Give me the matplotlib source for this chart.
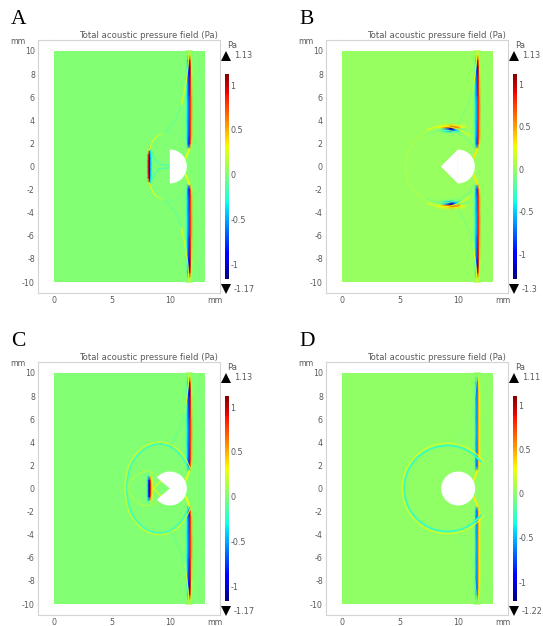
import numpy as np
import matplotlib
matplotlib.use("Agg")
import matplotlib.pyplot as plt
from matplotlib.colors import Normalize
from matplotlib.patches import Arc, Polygon, Circle, Wedge, PathPatch
from matplotlib.path import Path

W, H = 543, 626
TXT = "#5a5a5a"
FRAME = "#d4d4d4"
X_TICKS = [0, 5, 10]
Y_TICKS = [-10, -8, -6, -4, -2, 0, 2, 4, 6, 8, 10]
CB_TICKS = [-1, -0.5, 0, 0.5, 1]
CB_LABELS = ["-1", "-0.5", "0", "0.5", "1"]
TITLE = "Total acoustic pressure field (Pa)"
LETTERS = ["A", "B", "C", "D"]
VMAX = [1.13, 1.13, 1.13, 1.11]
VMIN = [-1.17, -1.3, -1.17, -1.22]

# Right-hand wall band (upper half; mirrored below). Columns: x in mm, rows: y in mm
wall_x = [11.36, 11.48, 11.58, 11.68, 11.78, 11.88, 11.97]
wall_y = [10.0, 9.6, 9.2, 8.6, 8.0, 6.0, 4.0, 2.4, 1.9, 1.5]
wall_a = [[0, 0, 0.04, 0.12, 0.05, 0, 0],
          [0, 0, -0.1, -0.4, 0.2, 0, 0],
          [0, -0.05, -0.6, -0.9, 0.7, 0.05, 0],
          [0, -0.15, -0.75, -1.0, 0.95, 0.15, 0],
          [0, -0.2, -0.7, -0.9, 0.95, 0.3, 0],
          [0, -0.25, -0.55, -0.7, 0.85, 0.55, 0],
          [0, -0.25, -0.5, -0.65, 0.8, 0.55, 0],
          [0, -0.25, -0.6, -0.8, 0.85, 0.45, 0],
          [0, -0.1, -0.65, -0.9, 0.7, 0.1, 0],
          [0, 0, -0.1, -0.2, 0.1, 0, 0]]
wall_d = [[0, 0, 0.03, 0.08, 0.03, 0, 0],
          [0, 0, -0.1, -0.35, 0.15, 0, 0],
          [0, -0.05, -0.5, -0.7, 0.35, 0.05, 0],
          [0, -0.1, -0.55, -0.7, 0.45, 0.1, 0],
          [0, -0.1, -0.55, -0.65, 0.5, 0.25, 0],
          [0, -0.1, -0.5, -0.6, 0.5, 0.3, 0],
          [0, -0.1, -0.5, -0.6, 0.5, 0.3, 0],
          [0, -0.1, -0.55, -0.65, 0.5, 0.3, 0],
          [0, -0.1, -0.6, -0.75, 0.45, 0.1, 0],
          [0, 0, -0.1, -0.2, 0.1, 0, 0]]

# Small vertical band left of the scatterer
left_x_a = [8.02, 8.14, 8.24, 8.36, 8.48, 8.62]
left_y_a = [1.7, 1.35, 1.0, 0.5, 0.0]
left_a = [[0, 0, 0, 0, 0, 0],
          [0, 0.3, -0.6, -0.2, 0, 0],
          [0, 0.8, -1.1, -0.35, -0.05, 0],
          [0, 0.9, -1.1, -0.4, -0.05, 0],
          [0, 0.9, -1.1, -0.4, -0.05, 0]]
left_x_c = [7.95, 8.07, 8.2, 8.32, 8.45, 8.6]
left_y_c = [1.35, 1.05, 0.7, 0.3, 0.0]
left_c = [[0, 0, 0, 0, 0, 0],
          [0, -0.15, -0.2, 0.2, 0.05, 0],
          [0, -0.3, -0.9, 0.85, 0.3, 0],
          [0, -0.3, -1.0, 0.95, 0.35, 0],
          [0, -0.3, -1.0, 0.95, 0.35, 0]]

# Dipole on the circular front in panel B
dip_x = [7.9, 8.5, 9.0, 9.4, 9.8, 10.3, 10.9]
dip_y = [2.85, 3.0, 3.13, 3.27, 3.4, 3.55, 3.72]
dip_b = [[0, 0, 0, 0, 0, 0, 0],
         [0, -0.03, -0.2, -0.3, -0.2, -0.03, 0],
         [0, -0.15, -0.5, -0.95, -0.5, -0.1, 0],
         [0, -0.1, -0.6, -1.2, -0.6, -0.1, 0],
         [0, 0.25, 0.7, 1.05, 0.7, 0.25, 0],
         [0, 0.15, 0.3, 0.4, 0.3, 0.15, 0],
         [0, 0, 0, 0, 0, 0, 0]]

# Thin fronts (upper half, mirrored below)
wing_low_x = [8.23, 8.45, 8.85, 9.45]
wing_low_y = [1.43, 2.10, 2.60, 2.90]
wing_mid_x = [9.45, 10.2, 10.7, 11.0]
wing_mid_y = [2.90, 3.50, 4.40, 5.30]
wing_top_x = [11.0, 11.3, 11.5, 11.62, 11.66]
wing_top_y = [5.30, 6.60, 8.00, 9.20, 10.0]
wing2_x = [10.0, 10.8, 11.25, 11.5, 11.62]
wing2_y = [3.6, 5.0, 6.6, 8.0, 9.6]
neck_x = [11.67, 11.55, 11.38]
neck_y = [1.55, 1.1, 0.72]
a_in1_x = [8.44, 8.85, 9.2, 10.03]
a_in1_y = [1.14, 0.35, 0.1, 0.13]
a_in2_x = [8.44, 9.2, 10.5, 11.1, 11.47]
a_in2_y = [1.86, 3.0, 3.0, 2.4, 1.58]
c_out_x = [6.27, 6.35, 7.3, 8.5, 9.7, 10.7, 11.4, 11.65]
c_out_y = [0.0, 1.6, 3.1, 3.85, 3.85, 3.2, 2.2, 1.6]
c_out2_x = [6.1, 6.18, 7.18, 8.45, 9.75, 10.85, 11.55, 11.78]
c_out2_y = [0.0, 1.7, 3.25, 4.02, 4.02, 3.35, 2.3, 1.7]
c_in_x = [6.35, 6.6, 7.5, 8.4, 8.9]
c_in_y = [0.0, 0.7, 1.5, 1.5, 1.12]
c_chev_x = [8.58, 9.3]
c_chev_y = [0.0, 0.74]

cmap = plt.get_cmap("jet")
fig = plt.figure(figsize=(W / 100, H / 100), dpi=100, facecolor="white")
over = fig.add_axes([0, 0, 1, 1], zorder=5)
over.set_xlim(0, W)
over.set_ylim(H, 0)
over.axis("off")


def rect(l, t, w, h):
    return [l / W, 1 - (t + h) / H, w / W, h / H]


def band(ax, xs, ys, vals, norm):
    v = np.array(vals, float)
    y = np.array(ys, float)
    for sign in (1, -1):
        ax.pcolormesh(xs, sign * y, v, shading="gouraud", cmap=cmap, norm=norm, zorder=2, rasterized=True)


def front(ax, xs, ys, val, norm, lw=1.0, alpha=0.9):
    """Smooth quadratic curve steered by the control points, plus its mirror image."""
    pts = np.column_stack([xs, ys]).astype(float)
    for sign in (1, -1):
        p = pts * [1, sign]
        if len(p) < 3:
            path = Path(p)
        else:
            verts = [p[0]]
            codes = [Path.MOVETO]
            for k in range(1, len(p) - 1):
                end = p[k + 1] if k == len(p) - 2 else (p[k] + p[k + 1]) / 2
                verts += [p[k], end]
                codes += [Path.CURVE3, Path.CURVE3]
            path = Path(verts, codes)
        ax.add_patch(PathPatch(path, fc="none", ec=cmap(norm(val)), lw=lw, alpha=alpha,
                               capstyle="round", zorder=3))


def arc(ax, cx, r, t0, t1, val, norm, lw=1.0, alpha=0.9):
    for a0, a1 in ((t0, t1), (-t1, -t0)):
        ax.add_patch(Arc((cx, 0), 2 * r, 2 * r, theta1=a0, theta2=a1, color=cmap(norm(val)),
                         lw=lw, alpha=alpha, zorder=3))


def panel(i, left, top):
    vmin, vmax = VMIN[i], VMAX[i]
    norm = Normalize(vmin, vmax)
    ax = fig.add_axes(rect(left, top, 182, 253))
    ax.set_xlim(-1.41, 14.34)
    ax.set_ylim(-10.95, 10.95)
    ax.pcolormesh([0, 13], [-10, 10], [[0.0]], cmap=cmap, norm=norm, zorder=1, rasterized=True)
    ax.set_xticks(X_TICKS)
    ax.set_yticks(Y_TICKS)
    ax.tick_params(colors=TXT, labelsize=5.7, length=1, width=0.4, color=FRAME, pad=1.2, right=True, top=True)
    ax.set_xticklabels([str(t) for t in X_TICKS])
    ax.set_yticklabels([str(t) for t in Y_TICKS])
    for s in ax.spines.values():
        s.set_color(FRAME)
        s.set_linewidth(0.8)
    ax.set_title(TITLE, fontsize=6.1, color=TXT, x=0.607, y=1.0, pad=1.5)

    wall = wall_d if i == 3 else wall_a
    band(ax, wall_x, wall_y, wall, norm)
    front(ax, neck_x, neck_y, 0.3, norm, lw=1.5)
    ws = "white"
    if i == 0:
        band(ax, left_x_a, left_y_a, left_a, norm)
        front(ax, wing_low_x, wing_low_y, 0.25, norm, lw=1.1)
        front(ax, wing_mid_x, wing_mid_y, -0.1, norm, lw=0.8)
        front(ax, wing_top_x, wing_top_y, 0.24, norm, lw=1.0)
        front(ax, a_in1_x, a_in1_y, -0.2, norm, lw=0.8)
        front(ax, a_in2_x, a_in2_y, -0.05, norm, lw=0.7)
        ax.add_patch(Wedge((10, 0), 1.47, -90, 90, fc=ws, ec="none", zorder=4))
    elif i == 1:
        band(ax, dip_x, dip_y, dip_b, norm)
        arc(ax, 8.75, 3.3, 95, 180, 0.1, norm, lw=0.8, alpha=0.7)
        arc(ax, 8.75, 3.47, 48, 115, 0.22, norm, lw=0.9)
        arc(ax, 8.75, 3.15, 28, 120, -0.12, norm, lw=0.8)
        front(ax, wing2_x, wing2_y, -0.1, norm, lw=0.8)
        front(ax, wing_top_x[1:], wing_top_y[1:], 0.22, norm, lw=0.9)
        ax.add_patch(Wedge((10, 0), 1.47, -90, 90, fc=ws, ec="none", zorder=4))
        ax.add_patch(Polygon([[10, 1.47], [8.53, 0], [10, -1.47]], fc=ws, ec="none", zorder=4))
    elif i == 2:
        band(ax, left_x_c, left_y_c, left_c, norm)
        front(ax, c_out_x, c_out_y, -0.22, norm, lw=1.0)
        front(ax, c_out2_x, c_out2_y, 0.2, norm, lw=0.9)
        front(ax, c_in_x, c_in_y, 0.12, norm, lw=0.9)
        front(ax, c_chev_x, c_chev_y, 0.28, norm, lw=0.9)
        front(ax, wing2_x, wing2_y, -0.08, norm, lw=0.8)
        front(ax, wing_top_x[1:], wing_top_y[1:], 0.22, norm, lw=0.9)
        ax.add_patch(Wedge((10, 0), 1.47, -140, 140, fc=ws, ec="none", zorder=4))
    else:
        arc(ax, 9.09, 3.72, 38, 180, -0.24, norm, lw=1.4, alpha=1)
        arc(ax, 9.09, 3.91, 36, 180, 0.22, norm, lw=0.9)
        front(ax, wing2_x, wing2_y, -0.05, norm, lw=0.7)
        ax.add_patch(Circle((10.03, 0), 1.47, fc=ws, ec="none", zorder=4))

    # colour bar
    cax = fig.add_axes(rect(left + 187, top + 33.5, 3.6, 206))
    cax.imshow(np.linspace(vmax, vmin, 256)[:, None], cmap=cmap, norm=norm, aspect="auto",
               extent=[0, 1, vmin, vmax], interpolation="bilinear")
    cax.set_xticks([])
    cax.yaxis.tick_right()
    cax.set_yticks(CB_TICKS)
    cax.set_yticklabels(CB_LABELS)
    cax.tick_params(axis="y", length=0, labelsize=5.8, labelcolor=TXT, pad=1.2)
    for s in cax.spines.values():
        s.set_visible(False)

    # annotations in pixel coordinates
    over.text(left - 27, top - 16.5, LETTERS[i], fontsize=15.5, family="Liberation Serif",
              color="black", ha="left", va="baseline")
    over.text(left - 28, top + 3.5, "mm", fontsize=5.6, color=TXT, ha="left", va="baseline")
    over.text(left + 169, top + 263, "mm", fontsize=5.6, color=TXT, ha="left", va="baseline")
    over.text(left + 194.5, top + 8, "Pa", fontsize=6.2, color=TXT, ha="center", va="baseline")
    over.plot(left + 188, top + 15.5, marker="^", ms=7, color="black", mew=0)
    over.plot(left + 188, top + 249, marker="v", ms=7, color="black", mew=0)
    over.text(left + 196, top + 15.5, f"{vmax:g}", fontsize=5.9, color=TXT, ha="left", va="center")
    over.text(left + 195.5, top + 249.5, f"{vmin:g}", fontsize=5.9, color=TXT, ha="left", va="center")


panel(0, 38, 40)
panel(1, 326, 40)
panel(2, 38, 362)
panel(3, 326, 362)
fig.savefig("out.png", dpi=100, facecolor="white")
